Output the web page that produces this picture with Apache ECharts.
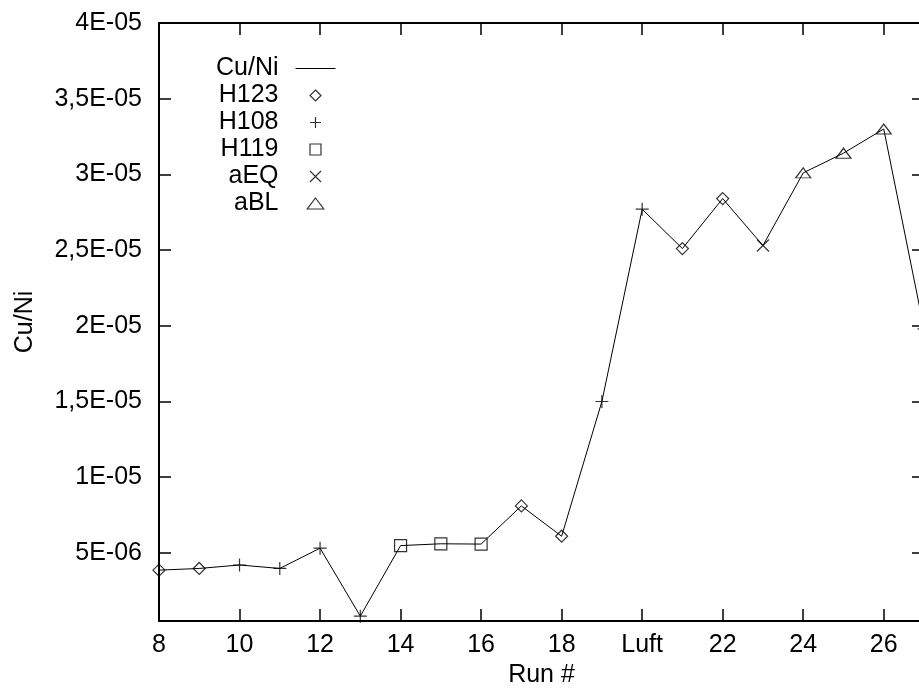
<!DOCTYPE html>
<html>
<head>
<meta charset="utf-8">
<script src="https://cdn.jsdelivr.net/npm/echarts@6/dist/echarts.min.js"></script>
<style>
  html, body { margin: 0; padding: 0; background: #fff; }
  #chart { width: 919px; height: 689px; }
</style>
</head>
<body>
<div id="chart"></div>
<script>
// run numbers (20 is the "Luft" run)
var runs = [8, 9, 10, 11, 12, 13, 14, 15, 16, 17, 18, 19, 20, 21, 22, 23, 24, 25, 26, 27];
var cuNi = [3.86e-6, 3.97e-6, 4.2e-6, 3.97e-6, 5.31e-6, 0.82e-6, 5.48e-6, 5.6e-6, 5.58e-6, 8.1e-6,
            6.1e-6, 1.5e-5, 2.77e-5, 2.51e-5, 2.84e-5, 2.53e-5, 3.01e-5, 3.14e-5, 3.3e-5, 1.98e-5];
var sample = ['H123', 'H123', 'H108', 'H108', 'H108', 'H108', 'H119', 'H119', 'H119', 'H123',
              'H123', 'H108', 'H108', 'H123', 'H123', 'aEQ', 'aBL', 'aBL', 'aBL', 'H108'];

var xTickValues = [8, 10, 12, 14, 16, 18, 20, 22, 24, 26];
var xTickLabels = ['8', '10', '12', '14', '16', '18', 'Luft', '22', '24', '26'];
var yTickValues = [5e-6, 1e-5, 1.5e-5, 2e-5, 2.5e-5, 3e-5, 3.5e-5, 4e-5];
var yTickLabels = ['5E-06', '1E-05', '1,5E-05', '2E-05', '2,5E-05', '3E-05', '3,5E-05', '4E-05'];

var groups = ['H123', 'H108', 'H119', 'aEQ', 'aBL'];

var symbols = {
    H123: { symbol: 'path://M6,0L12,6L6,12L0,6Z', size: 12 },
    H108: { symbol: 'path://M0,6L12,6M6,0L6,12', size: 13 },
    H119: { symbol: 'path://M0,0L12,0L12,12L0,12Z', size: 12 },
    aEQ: { symbol: 'path://M0,0L12,12M12,0L0,12', size: 12 },
    aBL: { symbol: 'path://M7.5,0L15,10L0,10Z', size: [15, 10] }
};

var font = 'Liberation Sans';
var chart = echarts.init(document.getElementById('chart'));

function tickLabel(list, values) {
    return function (v) {
        for (var i = 0; i < values.length; i++) {
            if (Math.abs(values[i] - v) < 1e-12 * Math.max(1, Math.abs(v)) || values[i] === v) return list[i];
        }
        return '';
    };
}

var axisBase = {
    axisLine: { show: true, onZero: false, lineStyle: { color: '#000', width: 2 } },
    axisTick: { show: true, inside: true, length: 12, lineStyle: { color: '#000', width: 1.5 } },
    splitLine: { show: false }
};

var series = [{
    name: 'Cu/Ni',
    type: 'line',
    data: runs.map(function (r, i) { return [r, cuNi[i]]; }),
    symbol: 'none',
    lineStyle: { color: '#000', width: 1 },
    itemStyle: { color: '#000' },
    z: 2
}];

groups.forEach(function (g) {
    var pts = [];
    runs.forEach(function (r, i) {
        if (sample[i] === g) pts.push([r, cuNi[i]]);
    });
    series.push({
        name: g,
        type: 'scatter',
        data: pts,
        symbol: symbols[g].symbol,
        symbolSize: symbols[g].size,
        itemStyle: { color: 'none', borderColor: '#000', borderWidth: 1.2 },
        z: 3
    });
});

var legendData = [{
    name: 'Cu/Ni',
    itemStyle: { color: 'transparent', borderColor: 'transparent', borderWidth: 0 },
    lineStyle: { color: '#000', width: 1 }
}].concat(groups.map(function (g) {
    return { name: g };
}));

var option = {
    animation: false,
    backgroundColor: '#fff',
    textStyle: { fontFamily: font, color: '#000' },
    grid: { left: 159, top: 23, width: 765, height: 598, containLabel: false, outerBoundsMode: 'none' },
    legend: {
        orient: 'vertical',
        align: 'right',
        right: 583,
        top: 55,
        padding: 0,
        itemGap: 0,
        itemWidth: 40,
        itemHeight: 11,
        selectedMode: false,
        data: legendData,
        itemStyle: { borderWidth: 1.2 },
        textStyle: { fontFamily: font, fontSize: 25, color: '#000', lineHeight: 27, padding: [0, 12, 0, 0] }
    },
    xAxis: [
        Object.assign({}, axisBase, {
            type: 'value',
            min: 8,
            max: 27,
            position: 'bottom',
            name: 'Run #',
            nameLocation: 'middle',
            nameGap: 42,
            nameTextStyle: { fontFamily: font, fontSize: 25, color: '#000' },
            axisTick: Object.assign({}, axisBase.axisTick, { customValues: xTickValues }),
            axisLabel: {
                customValues: xTickValues,
                formatter: tickLabel(xTickLabels, xTickValues),
                margin: 12,
                fontFamily: font,
                fontSize: 25,
                color: '#000'
            }
        }),
        Object.assign({}, axisBase, {
            type: 'value',
            min: 8,
            max: 27,
            position: 'top',
            axisTick: Object.assign({}, axisBase.axisTick, { customValues: xTickValues }),
            axisLabel: { show: false }
        })
    ],
    yAxis: [
        Object.assign({}, axisBase, {
            type: 'value',
            min: 5e-7,
            max: 4e-5,
            position: 'left',
            name: 'Cu/Ni',
            nameLocation: 'middle',
            nameGap: 121,
            nameTextStyle: { fontFamily: font, fontSize: 25, color: '#000' },
            axisTick: Object.assign({}, axisBase.axisTick, { customValues: yTickValues }),
            axisLabel: {
                customValues: yTickValues,
                formatter: tickLabel(yTickLabels, yTickValues),
                margin: 17,
                fontFamily: font,
                fontSize: 25,
                color: '#000'
            }
        }),
        Object.assign({}, axisBase, {
            type: 'value',
            min: 5e-7,
            max: 4e-5,
            position: 'right',
            axisTick: Object.assign({}, axisBase.axisTick, { customValues: yTickValues }),
            axisLabel: { show: false }
        })
    ],
    series: series
};

chart.setOption(option);
window.addEventListener('resize', function () {
    chart.resize();
});
</script>
</body>
</html>
